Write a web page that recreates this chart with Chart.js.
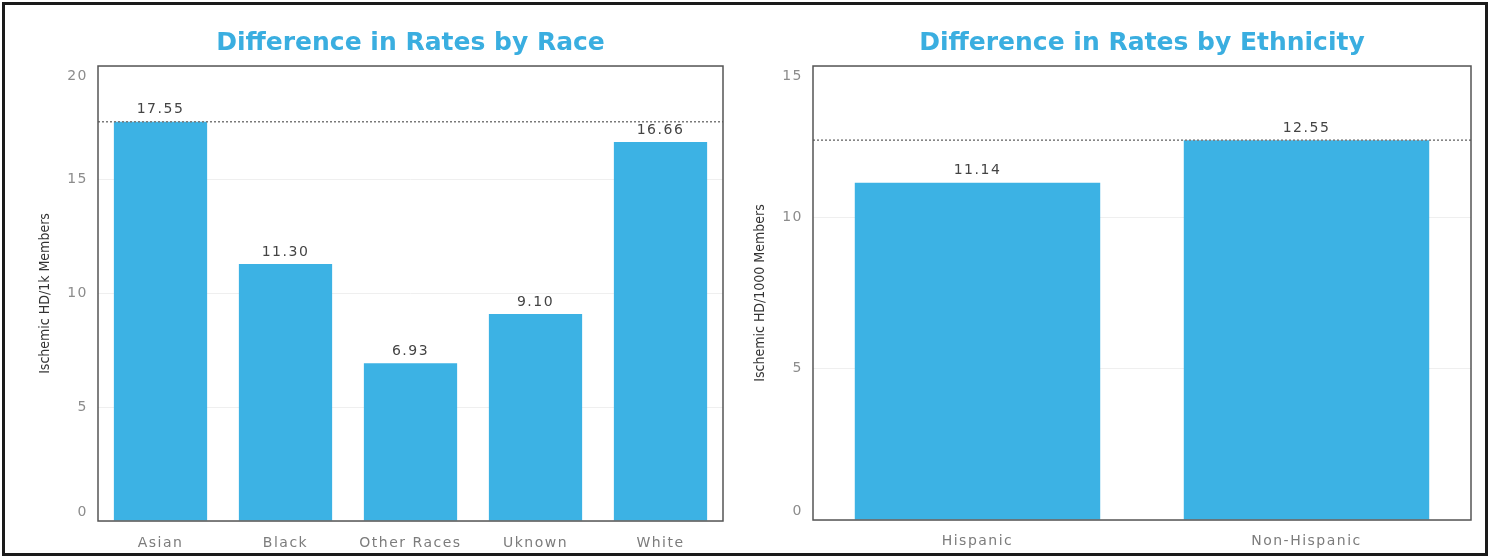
<!DOCTYPE html>
<html lang="en">

<head>
  <meta charset="UTF-8">
  <title>Difference in Rates</title>
  <script src="https://cdn.jsdelivr.net/npm/chart.js@4.4.1/dist/chart.umd.min.js"></script>
  <style>
    body { margin: 0; background: #fff; width: 1490px; height: 558px; position: relative; overflow: hidden; }
    #frame { position: absolute; left: 2px; top: 2px; width: 1480px; height: 548px; border: 3px solid #1a1a1a; }
    .box { position: absolute; top: 6px; height: 548px; }
    #raceBox { left: 6px; width: 734px; }
    #ethBox { left: 745px; width: 740px; }
  </style>
</head>

<body>
  <div id="frame"></div>
  <div class="box" id="raceBox"><canvas id="raceChart"></canvas></div>
  <div class="box" id="ethBox"><canvas id="ethChart"></canvas></div>

  <script>
    // data
    const raceLabels = ['Asian', 'Black', 'Other Races', 'Uknown', 'White'];
    const raceRates = [17.55, 11.30, 6.93, 9.10, 16.66];
    const raceMax = 20;

    const ethLabels = ['Hispanic', 'Non-Hispanic'];
    const ethRates = [11.14, 12.55];
    const ethMax = 15;

    const tickStep = 5;

    const blue = '#3cb2e4';
    const tickColor = '#8c8c8c';
    const tickFont = '"DejaVu Sans", sans-serif';
    const narrowFont = '"Liberation Sans Narrow", "DejaVu Sans Condensed", sans-serif';

    // dotted line at the max bar, the plot box, value labels and the title
    const frameBits = {
      id: 'frameBits',
      beforeDraw(chart) {
        chart.ctx.letterSpacing = '0px';
      },
      beforeDatasetsDraw(chart) {
        // tick labels are drawn after the bars (z:1), so they get the spacing too
        chart.ctx.letterSpacing = '1.5px';
      },
      afterDatasetsDraw(chart) {
        const ctx = chart.ctx;
        const a = chart.chartArea;
        const vals = chart.data.datasets[0].data;
        const yMax = chart.scales.y.getPixelForValue(Math.max(...vals));
        ctx.save();
        ctx.strokeStyle = '#7a7a7a';
        ctx.lineWidth = 1.5;
        ctx.setLineDash([2, 2]);
        ctx.beginPath();
        ctx.moveTo(a.left, yMax);
        ctx.lineTo(a.right, yMax);
        ctx.stroke();
        ctx.setLineDash([]);
        ctx.strokeStyle = '#555';
        ctx.strokeRect(a.left, a.top, a.right - a.left, a.bottom - a.top);
        ctx.font = '14px ' + tickFont;
        ctx.fillStyle = '#444';
        ctx.textAlign = 'center';
        ctx.textBaseline = 'bottom';
        chart.getDatasetMeta(0).data.forEach(function (bar, i) {
          ctx.fillText(vals[i].toFixed(2), bar.x, bar.y - 5);
        });
        ctx.restore();
      },
      afterDraw(chart, args, opts) {
        const ctx = chart.ctx;
        const a = chart.chartArea;
        const y = chart.scales.y;
        ctx.save();
        // end tick labels sit inside the plot range, as in the original
        ctx.letterSpacing = '1.5px';
        ctx.font = '14px ' + tickFont;
        ctx.fillStyle = tickColor;
        ctx.textAlign = 'right';
        ctx.textBaseline = 'middle';
        ctx.fillText(String(y.min), a.left - 10, y.getPixelForValue(y.min) - 9);
        ctx.fillText(String(y.max), a.left - 10, y.getPixelForValue(y.max) + 10);
        ctx.letterSpacing = '0px';
        ctx.font = 'bold 25px "DejaVu Sans", sans-serif';
        ctx.fillStyle = '#3aaee0';
        ctx.textAlign = 'center';
        ctx.fillText(opts.title, (a.left + a.right) / 2, 37);
        ctx.restore();
      }
    };

    function makeChart(id, labels, values, max, title, axisTitle, pad, xPad) {
      return new Chart(document.getElementById(id), {
        type: 'bar',
        data: {
          labels: labels,
          datasets: [{
            data: values,
            backgroundColor: blue,
            borderWidth: 0,
            barPercentage: 0.746,
            categoryPercentage: 1
          }]
        },
        options: {
          responsive: true,
          maintainAspectRatio: false,
          animation: false,
          layout: { padding: pad },
          plugins: {
            legend: { display: false },
            tooltip: { enabled: false },
            frameBits: { title: title }
          },
          scales: {
            x: {
              grid: { display: false },
              border: { display: false },
              ticks: {
                z: 1, color: '#7c7c7c', padding: xPad, maxRotation: 0, autoSkip: false,
                font: { family: tickFont, size: 14 }
              },
              afterFit: function (s) { s.height = 30; }
            },
            y: {
              min: 0,
              max: max,
              grid: { color: '#efefef', drawTicks: false },
              border: { display: false },
              ticks: {
                z: 1, stepSize: tickStep, color: tickColor, padding: 10,
                font: { family: tickFont, size: 14 },
                callback: function (v) {
                  return (v === this.min || v === this.max) ? '' : v;
                }
              },
              title: {
                display: true, text: axisTitle, padding: 0, color: '#333',
                font: { family: narrowFont, size: 14 }
              },
              afterFit: function (s) { s.width = 61; }
            }
          }
        },
        plugins: [frameBits]
      });
    }

    makeChart('raceChart', raceLabels, raceRates, raceMax, 'Difference in Rates by Race',
      'Ischemic HD/1k Members', { left: 31, right: 17, top: 60, bottom: 3 }, 6);
    makeChart('ethChart', ethLabels, ethRates, ethMax, 'Difference in Rates by Ethnicity',
      'Ischemic HD/1000 Members', { left: 7, right: 14, top: 60, bottom: 4 }, 5);
  </script>
</body>

</html>
